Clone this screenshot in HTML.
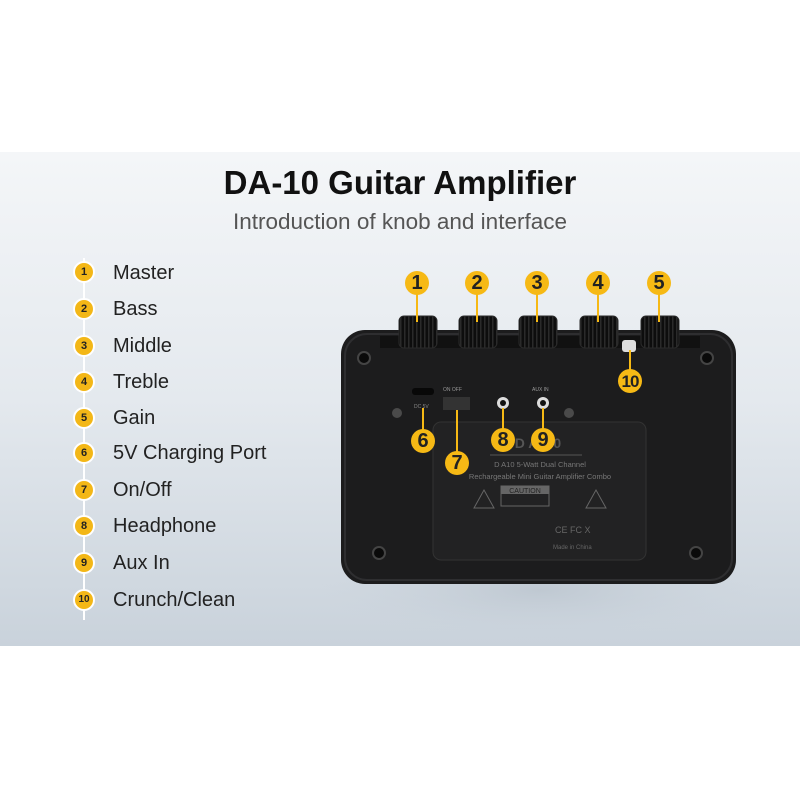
<!DOCTYPE html>
<html><head><style>
body{margin:0;width:800px;height:800px;background:#fff;position:relative;overflow:hidden;font-family:"Liberation Sans",sans-serif}
.panel{position:absolute;left:0;top:152px;width:800px;height:494px;background:linear-gradient(180deg,#f4f6f8 0%,#e4e9ee 50%,#c9d2db 100%)}
h1{position:absolute;top:164px;left:0;width:800px;text-align:center;margin:0;font-size:33px;font-weight:bold;color:#111}
.sub{position:absolute;top:209px;left:0;width:800px;text-align:center;font-size:22.5px;color:#555}
.vl{position:absolute;left:83px;top:258px;width:2px;height:362px;background:#fff}
.it{position:absolute;left:113px;font-size:20px;color:#222;line-height:24px}
.c{position:absolute;width:18px;height:18px;border-radius:50%;background:#f3b717;border:2px solid #fff;box-sizing:content-box;font-size:11px;font-weight:bold;text-align:center;line-height:18px;color:#222}
.b{position:absolute;width:24px;height:24px;border-radius:50%;background:#f6b915;font-size:20px;font-weight:bold;text-align:center;line-height:25px;color:#222}
</style></head><body>
<div class="panel"></div>
<h1>DA-10 Guitar Amplifier</h1>
<div class="sub">Introduction of knob and interface</div>
<div class="vl"></div>
<div class="c" style="left:73px;top:261px">1</div><div class="it" style="top:261px">Master</div>
<div class="c" style="left:73px;top:298px">2</div><div class="it" style="top:297px">Bass</div>
<div class="c" style="left:73px;top:335px">3</div><div class="it" style="top:334px">Middle</div>
<div class="c" style="left:73px;top:371px">4</div><div class="it" style="top:370px">Treble</div>
<div class="c" style="left:73px;top:407px">5</div><div class="it" style="top:406px">Gain</div>
<div class="c" style="left:73px;top:442px">6</div><div class="it" style="top:441px">5V Charging Port</div>
<div class="c" style="left:73px;top:479px">7</div><div class="it" style="top:478px">On/Off</div>
<div class="c" style="left:73px;top:515px">8</div><div class="it" style="top:514px">Headphone</div>
<div class="c" style="left:73px;top:552px">9</div><div class="it" style="top:551px">Aux In</div>
<div class="c" style="left:73px;top:589px;font-size:10px">10</div><div class="it" style="top:588px">Crunch/Clean</div>

<svg style="position:absolute;left:0;top:0" width="800" height="800">
<defs><radialGradient id="sh"><stop offset="0" stop-color="#b8c2cc" stop-opacity=".7"/><stop offset="1" stop-color="#c9d2db" stop-opacity="0"/></radialGradient>
<pattern id="rib" width="4" height="10" patternUnits="userSpaceOnUse"><rect width="4" height="10" fill="#0d0d0d"/><rect width="1.5" height="10" fill="#2a2a2a"/></pattern></defs>
<ellipse cx="540" cy="590" rx="220" ry="50" fill="url(#sh)"/>
<rect x="341" y="330" width="395" height="254" rx="24" fill="#1c1c1d"/>
<rect x="345" y="334" width="387" height="246" rx="22" fill="none" stroke="#2e2e30" stroke-width="2"/>
<rect x="380" y="336" width="320" height="12" fill="#111"/>
<g fill="url(#rib)" stroke="#2a2a2a">
<rect x="399" y="316" width="38" height="32" rx="5"/><rect x="459" y="316" width="38" height="32" rx="5"/><rect x="519" y="316" width="38" height="32" rx="5"/><rect x="580" y="316" width="38" height="32" rx="5"/><rect x="641" y="316" width="38" height="32" rx="5"/></g>
<rect x="622" y="340" width="14" height="12" rx="3" fill="#ddd"/>
<g fill="#0a0a0a" stroke="#444" stroke-width="2"><circle cx="364" cy="358" r="6"/><circle cx="707" cy="358" r="6"/><circle cx="379" cy="553" r="6"/><circle cx="696" cy="553" r="6"/></g>
<circle cx="397" cy="413" r="5" fill="#4a4a4a"/><circle cx="569" cy="413" r="5" fill="#4a4a4a"/>
<rect x="412" y="388" width="22" height="7" rx="3" fill="#080808"/>
<text x="414" y="408" font-size="5" fill="#888">DC 5V</text>
<text x="443" y="391" font-size="5" fill="#999">ON  OFF</text>
<rect x="443" y="397" width="27" height="13" fill="#333"/>
<circle cx="503" cy="403" r="6" fill="#ddd"/><circle cx="503" cy="403" r="3" fill="#111"/>
<circle cx="543" cy="403" r="6" fill="#ddd"/><circle cx="543" cy="403" r="3" fill="#111"/>
<text x="532" y="391" font-size="5" fill="#999">AUX  IN</text>
<rect x="433" y="422" width="213" height="138" rx="8" fill="#222223" stroke="#333" />
<text x="538" y="448" font-size="14" fill="#555" font-weight="bold" text-anchor="middle">D A 1 0</text>
<line x1="490" y1="455" x2="582" y2="455" stroke="#555"/>
<text x="540" y="467" font-size="7.5" fill="#777" text-anchor="middle">D A10 5-Watt Dual Channel</text>
<text x="540" y="479" font-size="7.5" fill="#777" text-anchor="middle">Rechargeable Mini Guitar Amplifier Combo</text>
<rect x="501" y="486" width="48" height="20" fill="none" stroke="#666"/><rect x="501" y="486" width="48" height="8" fill="#666"/>
<text x="525" y="493" font-size="7" fill="#222" text-anchor="middle">CAUTION</text>
<path d="M474 508 L484 490 L494 508Z M586 508 L596 490 L606 508Z" fill="none" stroke="#666"/>
<text x="555" y="533" font-size="9" fill="#666">CE  FC  X</text>
<text x="553" y="549" font-size="6" fill="#666">Made in China</text>
<g stroke="#f6b915" stroke-width="2">
<line x1="417" y1="290" x2="417" y2="322"/><line x1="477" y1="290" x2="477" y2="322"/><line x1="537" y1="290" x2="537" y2="322"/><line x1="598" y1="290" x2="598" y2="322"/><line x1="659" y1="290" x2="659" y2="322"/>
<line x1="630" y1="350" x2="630" y2="375"/><line x1="423" y1="408" x2="423" y2="435"/><line x1="457" y1="410" x2="457" y2="455"/><line x1="503" y1="408" x2="503" y2="432"/><line x1="543" y1="408" x2="543" y2="432"/></g>
</svg>
<div class="b" style="left:405px;top:271px">1</div>
<div class="b" style="left:465px;top:271px">2</div>
<div class="b" style="left:525px;top:271px">3</div>
<div class="b" style="left:586px;top:271px">4</div>
<div class="b" style="left:647px;top:271px">5</div>
<div class="b" style="left:618px;top:369px;font-size:17px;letter-spacing:-1px">10</div>
<div class="b" style="left:411px;top:429px">6</div>
<div class="b" style="left:445px;top:451px">7</div>
<div class="b" style="left:491px;top:428px">8</div>
<div class="b" style="left:531px;top:428px">9</div>
</body></html>
